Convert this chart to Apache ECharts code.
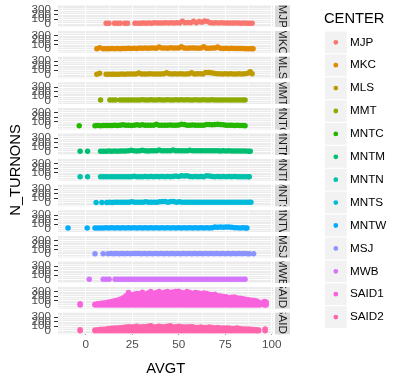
<!DOCTYPE html>
<html><head><meta charset="utf-8">
<script src="https://cdn.jsdelivr.net/npm/echarts@6/dist/echarts.min.js"></script>
<style>html,body{margin:0;padding:0;background:#fff}#c{width:401px;height:377px}</style>
</head><body><div id="c"></div>
<script>
const CENTERS = ['MJP','MKC','MLS','MMT','MNTC','MNTM','MNTN','MNTS','MNTW','MSJ','MWB','SAID1','SAID2'];
const COLORS = ['#F8766D','#E18A00','#BE9C00','#8CAB00','#24B700','#00BE70','#00C1AB','#00BBDA','#00ACFC','#8B93FF','#D575FE','#F962DD','#FF65AC'];
const X_TICKS = [0,25,50,75,100];
const X_MINOR = [-12.5,12.5,37.5,62.5,87.5];
const Y_TICKS = [0,100,200,300];
const Y_MINOR = [-50,50,150,250,350];

// [AVGT, N_TURNONS]
const MJP = [[11,5],[12.5,5],[15.5,5],[17,5],[18.5,5],[21,5],[22.5,5],[26.5,5],[28,8],[29.5,6],[31,10],[32.5,7],[34,12],[35.5,8],[37,14],[38.5,9],[40,12],[41.5,10],[43,16],[44.5,10],[46,14],[47.5,12],[49,18],[50.5,12],[52,48],[53.5,15],[55,20],[56.5,14],[58,52],[59.5,14],[61,42],[62.5,30],[64,55],[65.5,46],[67,16],[68.5,12],[70,14],[71.5,12],[73,15],[74.5,10],[76,13],[77.5,11],[79,9],[80.5,12],[82,11],[83.5,8],[85,10],[86.5,7],[88,6],[89.5,6]];
const MKC = [[6,8],[7.5,30],[9.5,6],[11,10],[12.5,8],[14,12],[15.5,10],[17,12],[18.5,10],[20,15],[21.5,12],[23,18],[24.5,14],[26,20],[27.5,16],[29,22],[30.5,18],[32,24],[33.5,20],[35,22],[36.5,26],[38,20],[39.5,48],[41,22],[42.5,26],[44,20],[45.5,28],[47,22],[48.5,26],[50,24],[51.5,50],[53,24],[54.5,20],[56,26],[57.5,22],[59,24],[60.5,20],[62,26],[63.5,52],[65,20],[66.5,18],[68,24],[69.5,22],[71,45],[72.5,18],[74,16],[75.5,20],[77,14],[78.5,18],[80,12],[81.5,15],[83,12],[84.5,14],[86,10],[87.5,9],[89,8],[90,6]];
const MLS = [[6,10],[7.5,35],[11,8],[12.5,12],[14,8],[15,8],[16.5,12],[18,10],[19.5,14],[21,12],[22.5,16],[24,14],[25.5,16],[27,14],[28.5,40],[30,16],[31.5,18],[33,15],[34.5,20],[36,16],[37.5,18],[39,16],[40.5,18],[42,20],[43.5,42],[45,20],[46.5,16],[48,22],[49.5,18],[51,20],[52.5,16],[54,18],[55.5,20],[57,45],[58.5,18],[60,22],[61.5,20],[63,18],[64.5,48],[66,50],[67.5,45],[69,30],[70.5,22],[72,20],[73.5,18],[75,22],[76.5,18],[78,20],[79.5,18],[81,16],[82.5,20],[84,18],[85.5,22],[87,30],[88.5,65],[89.5,20]];
const MMT = [[8,6],[13,6],[14.5,6],[16,6],[18.5,6],[20,6],[21.5,6],[23,6],[24.5,8],[26,6],[27.5,8],[29,6],[30.5,10],[32,8],[33.5,6],[35,10],[36.5,8],[38,6],[39.5,10],[41,8],[42.5,6],[44,10],[45.5,8],[47,6],[48.5,10],[50,8],[51.5,12],[53,8],[54.5,10],[56,6],[57.5,8],[59,10],[60.5,6],[62,8],[63.5,10],[65,6],[66.5,8],[68,10],[69.5,6],[71,8],[72.5,6],[74,8],[75.5,6],[77,8],[78.5,6],[80,8],[81.5,6],[83,8],[84.5,6],[85.7,6]];
const MNTC = [[-3.5,6],[5,6],[6.5,8],[8,6],[9.5,10],[11,8],[12.5,10],[14,8],[15.5,12],[17,10],[18.5,12],[20,25],[21.5,14],[23,12],[24.5,10],[26,14],[27.5,28],[29,12],[30.5,25],[32,14],[33.5,12],[35,16],[36.5,14],[38,35],[39.5,14],[41,12],[42.5,16],[44,14],[45.5,18],[47,14],[48.5,16],[50,18],[51.5,35],[53,30],[54.5,16],[56,14],[57.5,18],[59,16],[60.5,14],[62,16],[63.5,14],[65,30],[66.5,32],[68,28],[69.5,30],[71,34],[72.5,30],[74,28],[75.5,16],[77,12],[78.5,14],[80,10],[81.5,12],[83,8],[84.5,10],[85.7,6]];
const MNTM = [[-3,6],[1,6],[8,6],[9.5,8],[11,6],[12.5,10],[14,8],[15.5,10],[17,8],[18.5,12],[20,10],[21.5,12],[23,14],[24.5,28],[26,14],[27.5,12],[29,16],[30.5,30],[32,14],[33.5,12],[35,16],[36.5,14],[38,16],[39.5,32],[41,16],[42.5,14],[44,18],[45.5,16],[47,35],[48.5,16],[50,18],[51.5,14],[53,16],[54.5,18],[56,30],[57.5,16],[59,14],[60.5,18],[62,16],[63.5,14],[65,18],[66.5,16],[68,14],[69.5,16],[71,14],[72.5,12],[74,14],[75.5,12],[77,14],[78.5,10],[80,12],[81.5,10],[83,12],[84.5,10],[86,12],[87.5,8],[88.5,8]];
const MNTN = [[-3,6],[1,6],[8,6],[9.5,6],[11,8],[12.5,6],[14,8],[15.5,6],[17,8],[18.5,10],[20,8],[21.5,10],[23,8],[24.5,10],[26,20],[27.5,10],[29,8],[30.5,10],[32,12],[33.5,10],[35,12],[36.5,10],[38,12],[39.5,10],[41,12],[42.5,10],[44,12],[45.5,10],[47,12],[48.5,25],[50,14],[51.5,30],[53,25],[54.5,28],[56,12],[57.5,10],[59,12],[60.5,10],[62,12],[63.5,10],[65,28],[66.5,25],[68,12],[69.5,10],[71,12],[72.5,10],[74,12],[75.5,10],[77,12],[78.5,10],[80,12],[81.5,10],[83,8],[84.5,10],[86,8],[87.5,6],[88,6]];
const MNTS = [[5.6,6],[8.7,6],[11.3,6],[12.8,8],[14.3,6],[15.8,8],[17.3,10],[18.8,8],[20.3,10],[21.8,8],[23.3,10],[24.8,20],[26.3,12],[27.8,10],[29.3,12],[30.8,10],[32.3,22],[33.8,10],[35.3,12],[36.8,10],[38.3,12],[39.8,22],[41.3,25],[42.8,24],[44.3,12],[45.8,26],[47.3,24],[48.8,12],[50.3,22],[51.8,10],[53.3,12],[54.8,10],[56.3,12],[57.8,10],[59.3,12],[60.8,10],[62.3,12],[63.8,10],[65.3,12],[66.8,10],[68.3,12],[69.8,10],[71.3,12],[72.8,10],[74.3,12],[75.8,10],[77.3,12],[78.8,10],[80.3,12],[81.8,10],[83.3,12],[84.8,10],[86.3,12],[87.8,10],[88.9,8]];
const MNTW = [[-9.5,6],[0.8,6],[5,6],[6.5,8],[8,6],[9.5,8],[11,10],[12.5,8],[14,10],[15.5,8],[17,10],[18.5,8],[20,10],[21.5,8],[23,10],[24.5,8],[26,10],[27.5,8],[29,10],[30.5,8],[32,10],[33.5,8],[35,10],[36.5,8],[38,10],[39.5,8],[41,10],[42.5,8],[44,10],[45.5,8],[47,10],[48.5,8],[50,10],[51.5,8],[53,10],[54.5,8],[56,10],[57.5,8],[59,10],[60.5,8],[62,10],[63.5,8],[65,10],[66.5,8],[68,12],[69.5,28],[71,22],[72.5,30],[74,26],[75.5,28],[77,30],[78.5,24],[80,12],[81.5,10],[83,8],[84.5,10],[86,8],[86.7,6]];
const MSJ = [[5,6],[9.4,6],[12,6],[13.5,8],[15,6],[16.5,8],[18,6],[19.5,8],[21,6],[22.5,8],[24,6],[25.5,8],[27,10],[28.5,8],[30,6],[31.5,8],[33,6],[34.5,8],[36,6],[37.5,8],[39,6],[40.5,8],[42,6],[43.5,8],[45,6],[46.5,8],[48,6],[49.5,8],[51,6],[52.5,8],[54,6],[55.5,8],[57,6],[58.5,8],[60,6],[61.5,8],[63,6],[64.5,8],[66,6],[67.5,8],[69,6],[70.5,8],[72,6],[73.5,8],[75,6],[76.5,8],[78,6],[79.5,8],[81,6],[82.5,8],[84,6],[85.5,8],[87,6],[88,6],[90.3,6]];
const MWB = [[1.9,6],[9.4,6],[11,6],[12.6,6],[15.8,6],[17.3,8],[18.8,6],[20.3,8],[21.8,6],[23.3,8],[24.8,6],[26.3,8],[27.8,6],[29.3,8],[30.8,6],[32.3,8],[33.8,6],[35.3,8],[36.8,6],[38.3,8],[39.8,6],[41.3,8],[42.8,6],[44.3,8],[45.8,6],[47.3,8],[48.8,6],[50.3,8],[51.8,6],[53.3,8],[54.8,6],[56.3,8],[57.8,6],[59.3,8],[60.8,6],[62.3,8],[63.8,6],[65.3,8],[66.8,6],[68.3,8],[69.8,6],[71.3,8],[72.8,6],[74.3,8],[75.8,6],[77.3,8],[78.8,6],[80.3,8],[81.8,6],[83.3,8],[84.8,6],[85.7,6]];
// rows: [AVGT, N_TURNONS values observed at that AVGT...]
const SAID1_ROWS = [[-3,0,30],[5,0,20],[6.5,0,30],[8,0,40],[9.5,0,45],[11,0,55],[12.5,0,70],[14,0,40,80],[15.5,0,50,95],[17,0,55,110],[18.5,0,65,130],[20,0,55,110,160],[21.5,0,65,130,200],[23,0,70,140,210,280],[24.5,0,60,120,180,230],[26,0,60,120,180,240],[27.5,0,65,130,195,260],[29,0,65,130,190,250],[30.5,0,70,140,210,285],[32,0,60,120,180,240],[33.5,0,70,140,205,270],[35,0,75,150,225,300],[36.5,0,65,130,195,260],[38,0,70,140,210,280],[39.5,0,75,150,225,300],[41,0,70,140,205,270],[42.5,0,70,140,210,285],[44,0,75,150,225,300],[45.5,0,70,140,210,280],[47,0,75,150,220,290],[48.5,0,75,150,225,300],[50,0,80,160,235,310],[51.5,0,70,140,210,280],[53,0,70,140,205,270],[54.5,0,75,150,225,300],[56,0,70,140,210,280],[57.5,0,65,130,195,260],[59,0,70,140,210,280],[60.5,0,70,140,205,270],[62,0,65,130,190,250],[63.5,0,70,140,205,270],[65,0,65,130,195,260],[66.5,0,60,120,180,240],[68,0,60,120,175,230],[69.5,0,60,120,180,240],[71,0,70,140,210],[72.5,0,65,130,200],[74,0,65,130,190],[75.5,0,60,120,185],[77,0,60,115,170],[78.5,0,60,120,175],[80,0,60,120,180],[81.5,0,55,110,160],[83,0,50,100,150],[84.5,0,70,140],[86,0,65,130],[87.5,0,60,120],[89,0,55,110],[90.5,0,50,100],[92,0,45,90],[93.5,0,60],[96,0,40,80],[97,0,35,70]];
const SAID2_ROWS = [[-3,0,20],[5,0,15],[6.5,0,20],[8,0,30],[9.5,0,35],[11,0,40],[12.5,0,50],[14,0,55],[15.5,0,60],[17,0,60],[18.5,0,65],[20,0,35,70],[21.5,0,40,80],[23,0,45,90],[24.5,0,40,80],[26,0,45,90],[27.5,0,50,100],[29,0,40,80],[30.5,0,45,90],[32,0,45,90],[33.5,0,50,100],[35,0,55,110],[36.5,0,40,80],[38,0,45,90],[39.5,0,50,100],[41,0,45,90],[42.5,0,45,90],[44,0,50,100],[45.5,0,55,110],[47,0,40,80],[48.5,0,45,90],[50,0,50,100],[51.5,0,45,90],[53,0,40,80],[54.5,0,40,80],[56,0,45,90],[57.5,0,45,90],[59,0,35,70],[60.5,0,35,70],[62,0,40,80],[63.5,0,35,70],[65,0,35,70],[66.5,0,40,80],[68,0,35,70],[69.5,0,60],[71,0,35,70],[72.5,0,60],[74,0,60],[75.5,0,60],[77,0,60],[78.5,0,50],[80,0,50],[81.5,0,60],[83,0,45],[84.5,0,40],[86,0,40],[87.5,0,40],[89,0,30],[90.5,0,25],[92,0,20],[93,0,15],[96.5,0,40]];

const rowsToPoints = rows => rows.flatMap(r => r.slice(1).map(y => [r[0], y]));
const SAID1 = rowsToPoints(SAID1_ROWS);
const SAID2 = rowsToPoints(SAID2_ROWS);
const SERIES_DATA = [MJP,MKC,MLS,MMT,MNTC,MNTM,MNTN,MNTS,MNTW,MSJ,MWB,SAID1,SAID2];

// layout
const FONT = 'Liberation Sans, Arial, sans-serif';
const T0 = 5.5, P = 25.6, H = 21.6, GL = 58, GW = 215.3;
const SX = 275, SW = 15;
const N = CENTERS.length;
const Y_MIN = -80, Y_MAX = 400;

const gridLines = [
  ...Y_MINOR.map(v => ({yAxis: v, lineStyle: {width: 0.6}})),
  ...X_MINOR.map(v => ({xAxis: v, lineStyle: {width: 0.6}})),
  ...Y_TICKS.map(v => ({yAxis: v, lineStyle: {width: 1.1}})),
  ...X_TICKS.map(v => ({xAxis: v, lineStyle: {width: 1.1}}))
];

const grids = [], xAxes = [], yAxes = [], series = [];
CENTERS.forEach((c, i) => {
  const last = i === N - 1;
  grids.push({left: GL, width: GW, top: T0 + i * P, height: H, show: true, backgroundColor: '#EBEBEB', borderWidth: 0, outerBoundsMode: 'none', containLabel: false});
  xAxes.push({type: 'value', gridIndex: i, min: -14.9, max: 100.9,
    axisLine: {show: false}, splitLine: {show: false},
    axisTick: {show: last, customValues: X_TICKS, length: 4, lineStyle: {color: '#333333', width: 1}},
    axisLabel: {show: last, customValues: X_TICKS, showMinLabel: true, showMaxLabel: true, hideOverlap: false, color: '#4D4D4D', fontSize: 11.7, fontFamily: FONT, margin: 4},
    name: last ? 'AVGT' : '', nameLocation: 'middle', nameGap: 27,
    nameTextStyle: {color: '#000', fontSize: 14.7, fontFamily: FONT}
  });
  // one y axis per tick value so the (overlapping) labels are all drawn, as in the reference
  const firstY = yAxes.length;
  Y_TICKS.forEach(v => {
    yAxes.push({type: 'value', gridIndex: i, min: Y_MIN, max: Y_MAX, position: 'left', offset: 0,
      axisLine: {show: false}, splitLine: {show: false},
      axisTick: {show: true, customValues: [v], length: 4, lineStyle: {color: '#333333', width: 1}},
      axisLabel: {show: true, customValues: [v], showMinLabel: true, showMaxLabel: true, hideOverlap: false, color: '#4D4D4D', fontSize: 11.7, fontFamily: FONT, margin: 7}
    });
  });
  series.push({type: 'scatter', name: c, xAxisIndex: i, yAxisIndex: firstY, data: SERIES_DATA[i],
    symbolSize: 5.5, itemStyle: {color: COLORS[i], opacity: 1}, z: 2, silent: true, animation: false,
    markLine: {silent: true, symbol: ['none', 'none'], label: {show: false}, animation: false, z: 1,
      lineStyle: {color: '#FFFFFF', type: 'solid'}, emphasis: {disabled: true}, data: gridLines}
  });
});

series.push({type: 'custom', coordinateSystem: 'none', silent: true, animation: false, z: 3,
  data: CENTERS.map((c, i) => [i]),
  renderItem: (params, api) => {
    const i = params.dataIndex; const top = T0 + i * P;
    return {type: 'group', children: [
      {type: 'rect', shape: {x: SX, y: top, width: SW, height: H}, style: {fill: '#D9D9D9'}},
      {type: 'group', clipPath: {type: 'rect', shape: {x: SX, y: top, width: SW, height: H}}, children: [
        {type: 'text', x: SX + SW / 2, y: top + H / 2, rotation: -Math.PI / 2,
          style: {text: CENTERS[i], fill: '#1A1A1A', font: '11.7px ' + FONT, align: 'center', verticalAlign: 'middle'}}
      ]}
    ]};
  }
});

const graphics = [
  {type: 'text', x: 16, y: 170, rotation: Math.PI / 2,
    style: {text: 'N_TURNONS', fill: '#000', font: '14.7px ' + FONT, align: 'center', verticalAlign: 'middle'}},
  {type: 'text', x: 324, y: 19,
    style: {text: 'CENTER', fill: '#000', font: '14.7px ' + FONT, align: 'left', verticalAlign: 'middle'}}
];
CENTERS.forEach((c, i) => {
  const cy = 42.3 + i * 22.9;
  graphics.push({type: 'rect', shape: {x: 325, y: cy - 10.85, width: 21.7, height: 21.7}, style: {fill: '#F2F2F2'}});
  graphics.push({type: 'circle', shape: {cx: 335.8, cy: cy, r: 2.4}, style: {fill: COLORS[i]}});
  graphics.push({type: 'text', x: 350, y: cy, style: {text: c, fill: '#000', font: '11.7px ' + FONT, align: 'left', verticalAlign: 'middle'}});
});

const option = {
  animation: false,
  backgroundColor: '#FFFFFF',
  grid: grids, xAxis: xAxes, yAxis: yAxes, series: series,
  graphic: graphics
};
const chart = echarts.init(document.getElementById('c'), null, {renderer: 'canvas'});
chart.setOption(option);
</script></body></html>
